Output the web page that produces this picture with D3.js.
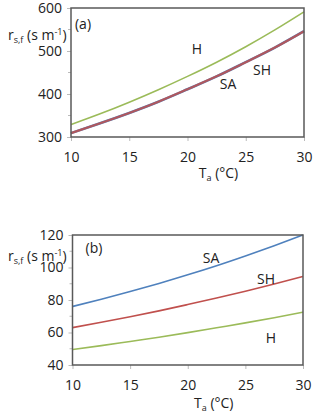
<!DOCTYPE html>
<html>
<head>
<meta charset="utf-8">
<script src="https://cdn.jsdelivr.net/npm/d3@7"></script>
<style>
  body { margin: 0; background: #fff; }
  svg { display: block; }
  text { font-family: "Open Sans", "Liberation Sans", sans-serif; fill: #222; }
</style>
</head>
<body>
<div id="chart"></div>
<script>
// air temperature (x)
const temps = [10, 12.5, 15, 17.5, 20, 22.5, 25, 27.5, 30];
const xTicks = [10, 15, 20, 25, 30];

// panel (a) values, s m-1
const aH  = [329, 354, 381, 410, 441, 474, 510, 549, 591];
const aSA = [309, 332, 356, 382, 411, 441, 474, 508, 546];
const aSH = [309, 332, 356, 382, 411, 441, 474, 508, 546];
const aTicks = [300, 400, 500, 600];

// panel (b) values, s m-1
const bSA = [76, 80.5, 85.2, 90.2, 95.5, 101.1, 107.1, 113.4, 120];
const bSH = [63, 66.3, 69.7, 73.3, 77.2, 81.2, 85.4, 89.8, 94.5];
const bH  = [49.5, 51.9, 54.5, 57.1, 59.9, 62.9, 65.9, 69.1, 72.5];
const bTicks = [40, 60, 80, 100, 120];

const green = "#9bbb59", red = "#c0504d", blue = "#4f81bd";

const svg = d3.select("#chart").append("svg")
    .attr("width", 315).attr("height", 414);

function panel(opts) {
    const x = d3.scaleLinear().domain([10, 30]).range([opts.left, opts.right]);
    const y = d3.scaleLinear().domain(opts.yDomain).range([opts.bottom, opts.top]);
    const g = svg.append("g");

    // minor ticks (half steps)
    const step = opts.yTicks[1] - opts.yTicks[0];
    const minor = opts.yTicks.slice(0, -1).map(v => v + step / 2);
    g.selectAll(".minor").data(minor).enter().append("line")
        .attr("x1", opts.left - 3).attr("x2", opts.left)
        .attr("y1", d => y(d)).attr("y2", d => y(d))
        .attr("stroke", "#bbb").attr("stroke-width", 1);

    const yAxis = g.append("g")
        .attr("transform", "translate(" + opts.left + ",0)")
        .call(d3.axisLeft(y).tickValues(opts.yTicks).tickSize(4).tickPadding(5));
    const xAxis = g.append("g")
        .attr("transform", "translate(0," + opts.bottom + ")")
        .call(d3.axisBottom(x).tickValues(xTicks).tickSize(4).tickPadding(11));
    [yAxis, xAxis].forEach(ax => {
        ax.select(".domain").remove();
        ax.selectAll("line").attr("stroke", "#bbb");
        ax.selectAll("text").style("font-size", "14px").attr("fill", "#222")
            .style("font-family", "'Open Sans', sans-serif");
    });

    const line = d3.line().x((d, i) => x(temps[i])).y(d => y(d)).curve(d3.curveNatural);
    opts.series.forEach(s => {
        g.append("path").datum(s.values)
            .attr("d", line)
            .attr("fill", "none")
            .attr("stroke", s.color)
            .attr("stroke-width", s.width || 1.6)
            .attr("stroke-opacity", s.opacity || 1);
    });

    // frame
    g.append("rect")
        .attr("x", opts.left).attr("y", opts.top)
        .attr("width", opts.right - opts.left).attr("height", opts.bottom - opts.top)
        .attr("fill", "none").attr("stroke", "#595959").attr("stroke-width", 1.5);

    // y label
    const yl = g.append("text").attr("x", 8).attr("y", opts.yLabelY).style("font-size", "14px");
    yl.append("tspan").text("r");
    yl.append("tspan").attr("dy", 3).style("font-size", "9px").text("s,f");
    yl.append("tspan").attr("dy", -3).text(" (s m");
    yl.append("tspan").attr("dy", -5).style("font-size", "9px").text("-1");
    yl.append("tspan").attr("dy", 5).text(")");

    // x label
    const xl = g.append("text").attr("x", x(20) + opts.xLabelShift).attr("y", opts.xLabelY)
        .attr("text-anchor", "middle").style("font-size", "14px");
    xl.append("tspan").text("T");
    xl.append("tspan").attr("dy", 3).style("font-size", "9px").text("a");
    xl.append("tspan").attr("dy", -3).text(" (°C)");

    opts.labels.forEach(l => {
        g.append("text").attr("x", l[1]).attr("y", l[2])
            .attr("text-anchor", "middle").style("font-size", "14px").text(l[0]);
    });
}

panel({
    left: 71, right: 304, top: 8, bottom: 137,
    yDomain: [300, 600], yTicks: aTicks,
    yLabelY: 40, xLabelY: 178, xLabelShift: 31,
    series: [
        { values: aH, color: green },
        { values: aSA, color: blue, width: 2.6 },
        { values: aSH, color: red, width: 2.2, opacity: 0.85 }
    ],
    labels: [["(a)", 83, 29], ["H", 197, 54], ["SH", 262, 75], ["SA", 228, 89]]
});

panel({
    left: 72.5, right: 303, top: 235, bottom: 365,
    yDomain: [40, 120], yTicks: bTicks,
    yLabelY: 261, xLabelY: 408, xLabelShift: 26,
    series: [
        { values: bSA, color: blue },
        { values: bSH, color: red },
        { values: bH, color: green }
    ],
    labels: [["(b)", 94, 253], ["SA", 211, 263], ["SH", 266, 284], ["H", 271, 343]]
});
</script>
</body>
</html>
